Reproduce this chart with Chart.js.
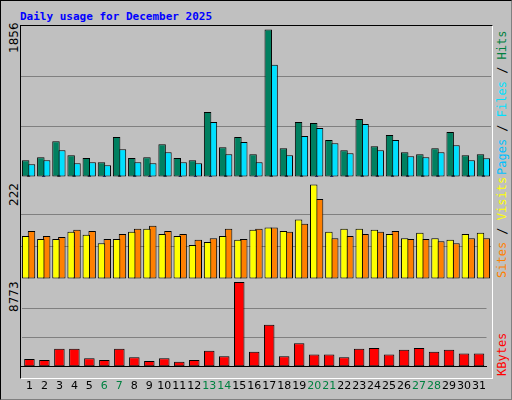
<!DOCTYPE html>
<html><head><meta charset="utf-8">
<script src="https://cdn.jsdelivr.net/npm/chart.js@4/dist/chart.umd.min.js"></script>
<style>
body{margin:0;background:#fff}
#page{position:relative;width:510px;height:398px;background:#c0c0c0;border:1px solid #000;border-right-color:#808080;border-bottom-color:#808080;overflow:hidden}
.box{position:absolute;border:1px solid #000;border-right-color:#fff;border-bottom-color:#fff}
canvas{position:absolute}
.t{position:absolute;white-space:nowrap;font-family:"DejaVu Sans Mono",monospace;font-size:12px}
.v{transform:rotate(-90deg);transform-origin:left top}
</style></head><body>
<div id="page">
  <div class="t" style="left:19px;top:9px;color:#0000ff;font-weight:bold;font-size:11px">Daily usage for December 2025</div>
  <div class="box" style="left:19px;top:24px;width:471px;height:352px"></div>
  <canvas id="c1" style="left:20px;top:25px"></canvas>
  <canvas id="c2" style="left:20px;top:181px"></canvas>
  <canvas id="c3" style="left:20px;top:279px"></canvas>
  <div class="t v" style="left:6px;top:52px;font-family:'DejaVu Sans';font-size:12px">1856</div>
  <div class="t v" style="left:6px;top:205px;font-family:'DejaVu Sans';font-size:12px">222</div>
  <div class="t v" style="left:6px;top:311px;font-family:'DejaVu Sans';font-size:12px">8773</div>
  <div class="t v" style="left:494px;top:174px"><span style="color:#00c0ff">Pages</span> / <span style="color:#00e0ff">Files</span> / <span style="color:#008040">Hits</span></div>
  <div class="t v" style="left:494px;top:277px"><span style="color:#ff8000">Sites</span> / <span style="color:#ffff00">Visits</span></div>
  <div class="t v" style="left:494px;top:375px;color:#ff0000">KBytes</div>
</div>
<script>
const days = Array.from({length: 31}, (_, i) => String(i + 1));
const weekend = [6, 7, 13, 14, 20, 21, 27, 28];
const hits = [211,249,451,274,240,186,502,240,249,413,240,211,818,375,502,287,1856,363,692,679,464,337,730,388,527,312,287,363,565,274,287];
const files = [160,211,337,173,186,148,350,186,173,312,186,173,692,287,439,186,1413,274,515,616,426,299,666,337,464,262,249,312,401,211,236];
const pages = [25,8,30,30,20,8,30,20,10,20,8,8,10,45,30,10,50,20,45,8,10,20,20,20,20,20,40,20,20,20,20];
const visits = [101,94,94,111,104,84,94,111,118,106,101,80,87,101,92,116,121,113,140,222,111,118,118,116,106,96,109,96,92,106,109];
const sites = [113,101,99,116,113,94,106,118,125,113,106,92,96,118,94,118,121,111,130,188,96,101,106,111,113,94,94,89,84,96,96];
const kbytes = [800,704,1857,1857,897,704,1857,993,608,897,512,704,1665,1089,8773,1569,4355,1089,2434,1281,1281,993,1857,1953,1281,1761,1953,1569,1761,1377,1377];

function bar(label, data, color, extra) {
  return Object.assign({label, data, backgroundColor: color, borderColor: "#000", borderWidth: 1,
    borderSkipped: false, categoryPercentage: 0.77, barPercentage: 1.28}, extra || {});
}

function makeChart(id, w, h, datasets, max, showX) {
  const cv = document.getElementById(id);
  cv.width = w; cv.height = h;
  cv.style.width = w + "px"; cv.style.height = h + "px";
  return new Chart(cv, {
    type: "bar",
    data: {labels: days, datasets},
    options: {
      responsive: false, animation: false,
      layout: {padding: 0},
      plugins: {legend: {display: false}, tooltip: {enabled: false}},
      scales: {
        x: {display: showX, grid: {display: false}, border: {color: "#000"},
            ticks: {autoSkip: false, maxRotation: 0, padding: 5,
              font: {family: "DejaVu Sans", size: 11},
              color: c => weekend.includes(c.index + 1) ? "#008040" : "#000"}},
        y: {min: 0, max: max, afterBuildTicks: a => { a.ticks = [0, max / 3, 2 * max / 3, max].map(v => ({value: v})); },
            ticks: {display: false}, border: {display: false},
            grid: {drawTicks: false, color: c => (c.tick.value === 0 || c.tick.value === max) ? "rgba(0,0,0,0)" : "#808080", lineWidth: 1}}
      }
    }
  });
}

makeChart("c1", 470, 151, [
  bar("Hits", hits, "#008060"),
  bar("Files", files, "#00e0ff"),
  bar("Pages", pages, "#0000ff", {grouped: false, barThickness: 3})
], 1900, false);
makeChart("c2", 470, 97, [
  bar("Visits", visits, "#ffff00"),
  bar("Sites", sites, "#ff8000")
], 228, false);
makeChart("c3", 470, 118, [
  bar("KBytes", kbytes, "#ff0000", {categoryPercentage: 0.7, barPercentage: 1})
], 8990, true);
</script>
</body></html>
